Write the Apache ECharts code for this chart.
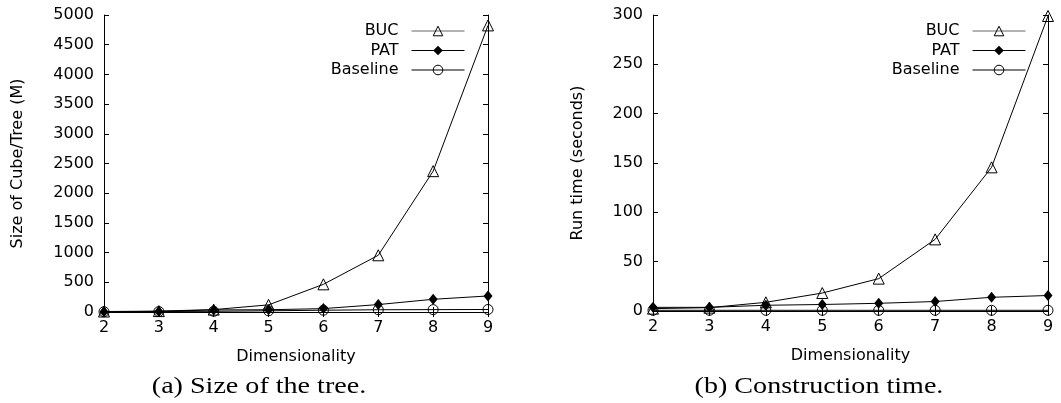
<!DOCTYPE html>
<html>
<head>
<meta charset="utf-8">
<script src="https://cdn.jsdelivr.net/npm/echarts@6/dist/echarts.min.js"></script>
<style>html,body{margin:0;padding:0;background:#fff;}#c{width:1061px;height:403px;}</style>
</head>
<body>
<div id="c"></div>
<script>
// ---- data ----
const dims = [2, 3, 4, 5, 6, 7, 8, 9];
// (a) Size of Cube/Tree (M)
const sizeBUC      = [8, 15, 40, 120, 466, 955, 2371, 4825];
const sizePAT      = [5, 10, 35, 38, 57, 125, 214, 270];
const sizeBaseline = [5, 8, 12, 20, 30, 38, 40, 42];
// (b) Run time (seconds)
const timeBUC      = [2.4, 3.4, 8.8, 18.2, 32.8, 72.6, 145.6, 299];
const timePAT      = [3.7, 3.7, 5.8, 6.6, 7.8, 9.6, 13.9, 15.7];
const timeBaseline = [0.7, 0.7, 0.7, 0.7, 0.7, 0.7, 0.7, 0.7];
const sizeTicks = {min: 0, max: 5000, interval: 500};
const timeTicks = {min: 0, max: 300, interval: 50};
const seriesNames = ['BUC', 'PAT', 'Baseline'];
const captions = ['(a) Size of the tree.', '(b) Construction time.'];
const xName = 'Dimensionality';
const yNames = ['Size of Cube/Tree (M)', 'Run time (seconds)'];

const FONT = 'DejaVu Sans';
const pairs = (ys) => dims.map((d, i) => [d, ys[i]]);

function xAx(grid, top) {
  return {
    type: 'value', gridIndex: grid, min: 2, max: 9, interval: 1,
    position: top ? 'top' : 'bottom',
    name: top ? '' : xName, nameLocation: 'middle', nameGap: 37,
    nameTextStyle: {fontFamily: FONT, fontSize: 16, color: '#000'},
    axisLine: {show: true, lineStyle: {color: '#000', width: 1}},
    axisTick: {show: true, inside: true, length: 5, lineStyle: {color: '#000'}},
    axisLabel: {show: !top, fontFamily: FONT, fontSize: 16, color: '#000', margin: 8,
                formatter: (v) => String(v)},
    splitLine: {show: false}
  };
}
function yAx(grid, right, t, name, gap) {
  return {
    type: 'value', gridIndex: grid, min: t.min, max: t.max, interval: t.interval,
    position: right ? 'right' : 'left',
    name: right ? '' : name, nameLocation: 'middle', nameGap: gap,
    nameTextStyle: {fontFamily: FONT, fontSize: 16, color: '#000'},
    axisLine: {show: true, lineStyle: {color: '#000', width: 1}},
    axisTick: {show: true, inside: true, length: 5, lineStyle: {color: '#000'}},
    axisLabel: {show: !right, fontFamily: FONT, fontSize: 16, color: '#000', margin: 10,
                formatter: (v) => String(v)},
    splitLine: {show: false}
  };
}
function mkSeries(idx, vals) {
  const common = {type: 'line', xAxisIndex: idx, yAxisIndex: idx, animation: false,
    lineStyle: {color: '#000', width: 1}};
  return [
    Object.assign({}, common, {name: seriesNames[0], data: pairs(vals[0]), symbol: 'triangle', symbolSize: 11,
      itemStyle: {color: 'rgba(0,0,0,0)', borderColor: '#000', borderWidth: 1}}),
    Object.assign({}, common, {name: seriesNames[1], data: pairs(vals[1]), symbol: 'diamond', symbolSize: [9, 11],
      itemStyle: {color: '#000', borderColor: '#000', borderWidth: 0}}),
    Object.assign({}, common, {name: seriesNames[2], data: pairs(vals[2]), symbol: 'circle', symbolSize: 10,
      itemStyle: {color: 'rgba(0,0,0,0)', borderColor: '#000', borderWidth: 1}})
  ];
}
function mkLegend(right) {
  return {
    orient: 'vertical', align: 'right', right: right, top: 23, padding: 0,
    itemWidth: 53, itemHeight: 12, itemGap: 3.5,
    selectedMode: false,
    textStyle: {fontFamily: FONT, fontSize: 16, color: '#000', padding: [0, 8, 0, 0]},
    data: [
      {name: 'BUC', lineStyle: {color: '#666', width: 1},
       itemStyle: {color: 'rgba(0,0,0,0)', borderColor: '#000', borderWidth: 1}},
      {name: 'PAT', lineStyle: {color: '#000', width: 1},
       itemStyle: {color: '#000', borderWidth: 0}},
      {name: 'Baseline', lineStyle: {color: '#000', width: 1},
       itemStyle: {color: 'rgba(0,0,0,0)', borderColor: '#000', borderWidth: 1}}
    ]
  };
}

const chart = echarts.init(document.getElementById('c'), null, {renderer: 'canvas'});
chart.setOption({
  backgroundColor: '#fff',
  animation: false,
  grid: [
    {left: 104, right: 573, top: 15, bottom: 91},
    {left: 653, right: 13, top: 15, bottom: 92}
  ],
  xAxis: [xAx(0, false), xAx(1, false), xAx(0, true), xAx(1, true)],
  yAxis: [yAx(0, false, sizeTicks, yNames[0], 78), yAx(1, false, timeTicks, yNames[1], 67),
          yAx(0, true, sizeTicks, '', 0), yAx(1, true, timeTicks, '', 0)],
  legend: [mkLegend(596), mkLegend(35)],
  series: [].concat(mkSeries(0, [sizeBUC, sizePAT, sizeBaseline]),
                    mkSeries(1, [timeBUC, timePAT, timeBaseline])),
  graphic: [
    {type: 'text', x: 259, y: 387, scaleX: 1.17,
     style: {text: captions[0], x: 0, y: 0, align: 'center', verticalAlign: 'middle',
             font: '24px "Liberation Serif"', fill: '#000'}},
    {type: 'text', x: 819, y: 387, scaleX: 1.17,
     style: {text: captions[1], x: 0, y: 0, align: 'center', verticalAlign: 'middle',
             font: '24px "Liberation Serif"', fill: '#000'}}
  ]
});
</script>
</body>
</html>
